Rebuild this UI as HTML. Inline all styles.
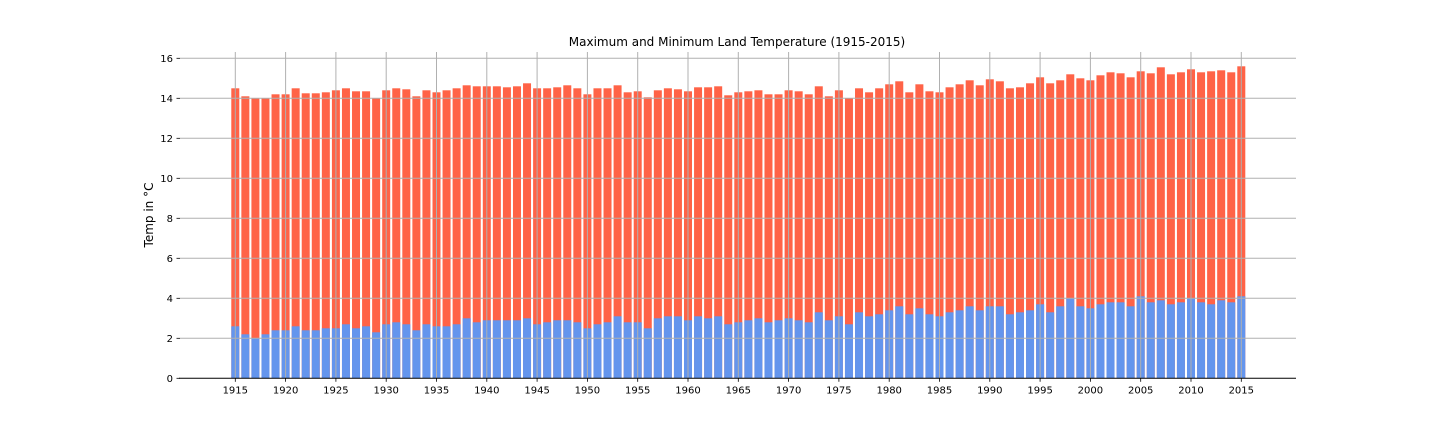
<!DOCTYPE html>
<html><head><meta charset="utf-8">
<style>
html,body{margin:0;padding:0;background:#fff;}
svg{display:block;font-family:"DejaVu Sans","Liberation Sans",sans-serif;}
</style></head>
<body>
<svg id="chart" width="1440" height="432" viewBox="0 0 1440 432" xmlns="http://www.w3.org/2000/svg">
<text x="737" y="46" text-anchor="middle" font-size="12" fill="#000">Maximum and Minimum Land Temperature (1915-2015)</text>
<text transform="translate(153,215) rotate(-90)" text-anchor="middle" font-size="12" fill="#000">Temp in °C</text>
<g id="bars"></g>
<g id="grid"></g>
<g id="axes"></g>
</svg>
<script>
const years = [];
for (let y = 1915; y <= 2015; y++) years.push(y);
const maxTemps = [14.5,14.1,14.0,14.0,14.2,14.2,14.5,14.25,14.25,14.3,14.4,14.5,14.35,14.35,14.0,14.4,14.5,14.45,14.1,14.4,14.3,14.4,14.5,14.65,14.6,14.6,14.6,14.55,14.6,14.75,14.5,14.5,14.55,14.65,14.5,14.2,14.5,14.5,14.65,14.3,14.35,14.05,14.4,14.5,14.45,14.35,14.55,14.55,14.6,14.15,14.3,14.35,14.4,14.2,14.2,14.4,14.35,14.2,14.6,14.1,14.4,14.0,14.5,14.3,14.5,14.7,14.85,14.3,14.7,14.35,14.3,14.55,14.7,14.9,14.65,14.95,14.85,14.5,14.55,14.75,15.05,14.75,14.9,15.2,15.0,14.9,15.15,15.3,15.25,15.05,15.35,15.25,15.55,15.2,15.3,15.45,15.3,15.35,15.4,15.3,15.6];
const minTemps = [2.6,2.2,2.0,2.2,2.4,2.4,2.6,2.4,2.4,2.5,2.5,2.7,2.5,2.6,2.3,2.7,2.8,2.7,2.4,2.7,2.6,2.6,2.7,3.0,2.8,2.9,2.9,2.9,2.9,3.0,2.7,2.8,2.9,2.9,2.8,2.5,2.7,2.8,3.1,2.8,2.8,2.5,3.0,3.1,3.1,2.9,3.1,3.0,3.1,2.7,2.8,2.9,3.0,2.8,2.9,3.0,2.9,2.8,3.3,2.9,3.1,2.7,3.3,3.1,3.2,3.4,3.6,3.2,3.5,3.2,3.1,3.3,3.4,3.6,3.4,3.6,3.6,3.2,3.3,3.4,3.7,3.3,3.6,4.0,3.6,3.5,3.7,3.8,3.8,3.6,4.1,3.8,3.9,3.7,3.8,4.0,3.8,3.7,3.9,3.8,4.1];
const yTicks = [0,2,4,6,8,10,12,14,16];
const xTicks = [1915,1920,1925,1930,1935,1940,1945,1950,1955,1960,1965,1970,1975,1980,1985,1990,1995,2000,2005,2010,2015];

const NS = "http://www.w3.org/2000/svg";
const X0 = 180, X1 = 1296, TOP = 52, BOTTOM = 378.3;
const xs = y => 235.3 + (y - 1915) * 10.06;
const ys = v => BOTTOM - v * 20;
const BW = 8;
function mk(tag, attrs, parent){const e=document.createElementNS(NS,tag);for(const k in attrs)e.setAttribute(k,attrs[k]);parent.appendChild(e);return e;}
const bars = document.getElementById('bars'), grid = document.getElementById('grid'), axes = document.getElementById('axes');

years.forEach((yr, i) => {
  const r1 = mk('rect', {x: xs(yr) - BW/2, y: ys(maxTemps[i]), width: BW, height: BOTTOM - ys(maxTemps[i]), fill: '#ff6347'}, bars);
  
  
  const r2 = mk('rect', {x: xs(yr) - BW/2, y: ys(minTemps[i]), width: BW, height: BOTTOM - ys(minTemps[i]), fill: '#6495ed'}, bars);
  
  
});

yTicks.forEach(v => {
  const y = ys(v);
  if (v > 0) {
    const g = mk('line', {x1: X0, x2: X1, y1: y, y2: y, stroke: '#b0b0b0', 'stroke-width': 1}, grid);
    
    
  }
  const t = mk('line', {x1: X0 - 3.5, x2: X0, y1: y, y2: y, stroke: '#000', 'stroke-width': 0.8}, axes);
  
  
  const l = mk('text', {x: X0 - 7, y: y + 3.5, 'text-anchor': 'end', 'font-size': 10, fill: '#000'}, axes);
  l.textContent = v;
  
  
});

xTicks.forEach(v => {
  const x = xs(v);
  const g = mk('line', {x1: x, x2: x, y1: TOP, y2: BOTTOM, stroke: '#b0b0b0', 'stroke-width': 1}, grid);
  
  
  const t = mk('line', {x1: x, x2: x, y1: BOTTOM, y2: BOTTOM + 3.5, stroke: '#000', 'stroke-width': 0.8}, axes);
  
  
  const l = mk('text', {x: x, y: BOTTOM + 15, 'text-anchor': 'middle', 'font-size': 10, fill: '#000'}, axes);
  l.textContent = v;
  
  
});

const sp = mk('line', {x1: X0 - 1, x2: X1, y1: BOTTOM, y2: BOTTOM, stroke: '#000', 'stroke-width': 1}, axes);


</script>
</body></html>
